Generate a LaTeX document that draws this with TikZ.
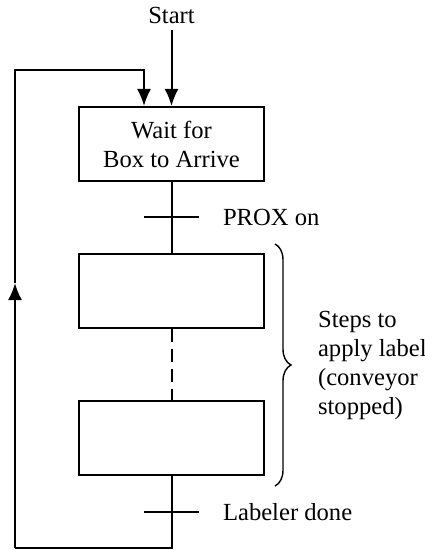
\documentclass[tikz,border=0pt]{standalone}
\usepackage{fontspec}
\setmainfont{Liberation Serif}
\usetikzlibrary{positioning,arrows.meta,calc,decorations.pathreplacing}
\tikzset{
    on grid,
    node distance=73.5pt,
    stepbox/.style = {
        draw,
        shape=rectangle,
        minimum height=37pt,
        minimum width=92.5pt,
        align=center,
        line width=1pt
    },
    flow/.style = {
        draw,
        line width=1pt
    },
    trans/.style = {
        draw,
        line width=1pt
    },
    >={Latex[length=8.5pt,width=7pt]},
}

\begin{document}
\begin{tikzpicture}[font=\fontsize{12.3pt}{14.5pt}\selectfont]
        \useasboundingbox (0,0) rectangle (212pt,-275pt);

        \node[stepbox] (wait) at (85.75pt,-72pt) {Wait for\\Box to Arrive};
        \node[stepbox, below=of wait] (stepa) {};
        \node[stepbox, below=of stepa] (stepb) {};

        \node[above=64.5pt of wait] (start) {Start};

        \coordinate[below=36.5pt of wait] (t1);
        \coordinate[below=37pt of stepb] (t2);
        \coordinate[below=18pt of t2] (loopbr);
        \coordinate[left=78.25pt of loopbr] (loopbl);
        \coordinate[above=132.5pt of loopbl] (loopmid);
        \coordinate[above=239pt of loopbl] (looptl);
        \coordinate (loopin) at ([xshift=-13.75pt]wait.north);

        \node[anchor=west] (prox) at ([xshift=22.25pt]t1) {PROX on};
        \node[anchor=west] (done) at ([xshift=22.25pt]t2) {Labeler done};

        \path[flow, ->] (start) -- (wait);
        \path[flow, -] (wait) -- (stepa);
        \path[flow, -, dash pattern=on 6.5pt off 3.5pt] (stepa) -- (stepb);
        \path[flow, -] (stepb) -- (loopbr) -- (loopbl);
        \path[flow, ->] (loopbl) -- (loopmid);
        \path[flow, ->] (loopmid) -- (looptl) -| (loopin);

        \path[trans] ([xshift=-13.75pt]t1) -- ([xshift=13.75pt]t1);
        \path[trans] ([xshift=-13.75pt]t2) -- ([xshift=13.75pt]t2);

        \coordinate (bracetop) at ([shift={(5pt,4.5pt)}]stepa.north east);
        \coordinate (bracebot) at ([shift={(5pt,-5pt)}]stepb.south east);
        \path[draw, line width=0.7pt, decorate, decoration={brace, amplitude=8pt}] (bracetop) -- (bracebot);
        \node[anchor=west, align=left] (note) at ([xshift=18pt]$(bracetop)!0.5!(bracebot)$) {Steps to\\apply label\\(conveyor\\stopped)};
    \end{tikzpicture}
\end{document}
